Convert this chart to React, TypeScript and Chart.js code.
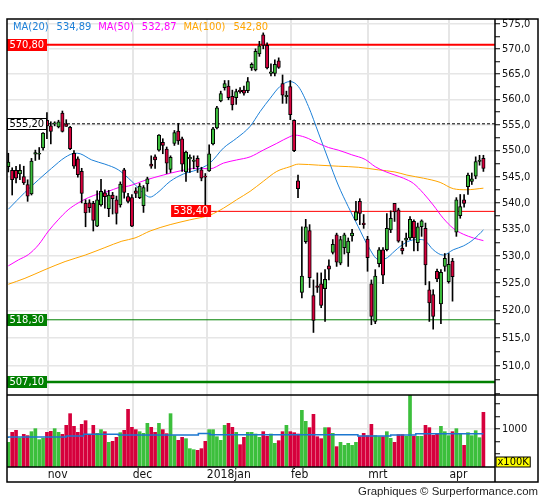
import React, { useEffect, useRef } from 'react';
import { Chart, registerables } from 'chart.js';

Chart.register(...registerables);

// ---------- data ----------
const opens = [
  546.9, 546.2, 546.2, 545.5, 545.0, 543.5, 541.7, 549.3, 549.3, 550.5,
  555.9, 554.8, 555.2, 554.6, 557.3, 555.2, 554.5, 549.5, 548.4, 546.0,
  539.9, 540.0, 539.9, 535.6, 539.6, 541.9, 538.9, 541.5, 540.6, 539.6,
  546.3, 541.2, 541.0, 542.3, 541.0, 539.5, 543.6, 547.4, 548.8, 550.1,
  551.6, 550.3, 546.4, 551.4, 553.8, 552.3, 545.9, 548.4, 547.9, 548.5,
  546.3, 545.1, 546.1, 551.3, 554.4, 559.7, 562.3, 562.6, 560.6, 560.3,
  561.8, 561.8, 561.7, 566.2, 565.8, 569.0, 572.8, 570.7, 565.1, 565.1,
  567.6, 563.1, 560.5, 562.5, 555.9, 544.2, 523.3, 532.7, 534.8, 522.7,
  524.5, 524.9, 524.0, 528.2, 530.7, 534.0, 528.7, 531.6, 530.6, 533.8,
  536.8, 540.3, 536.2, 533.2, 524.9, 518.0, 528.6, 531.2, 531.2, 534.9,
  539.9, 538.7, 531.5, 533.0, 533.4, 536.5, 532.5, 535.5, 535.2, 523.8,
  522.9, 527.2, 521.2, 528.1, 525.3, 529.1, 534.5, 537.6, 540.6, 543.1,
  544.1, 545.1, 547.9, 548.5,
];
const highs = [
  549.5, 546.7, 547.0, 547.3, 547.0, 544.4, 548.5, 550.1, 550.6, 553.5,
  557.4, 555.6, 555.6, 555.9, 557.7, 556.0, 554.7, 550.0, 548.8, 546.6,
  540.6, 540.6, 540.3, 542.3, 544.5, 542.5, 542.4, 542.0, 541.3, 544.0,
  546.6, 541.8, 541.6, 542.9, 543.7, 543.3, 544.9, 549.0, 549.2, 553.1,
  552.3, 550.7, 549.0, 553.9, 555.3, 552.6, 549.9, 549.2, 549.0, 549.0,
  546.8, 545.6, 551.1, 554.5, 558.6, 561.6, 563.7, 563.7, 561.8, 562.0,
  562.3, 562.6, 564.3, 567.2, 570.0, 571.5, 573.2, 571.2, 567.0, 567.8,
  568.2, 564.8, 561.6, 563.7, 556.0, 545.3, 535.5, 536.9, 535.9, 525.6,
  526.9, 526.9, 527.5, 529.3, 533.1, 534.3, 533.7, 534.3, 533.4, 535.0,
  540.3, 540.8, 537.8, 533.7, 525.6, 527.5, 531.6, 531.6, 538.0, 538.5,
  539.9, 539.0, 532.8, 534.3, 537.4, 536.8, 536.2, 536.8, 536.2, 525.3,
  523.8, 527.6, 527.5, 530.5, 530.5, 529.6, 541.0, 541.6, 541.6, 545.7,
  545.7, 548.8, 549.1, 549.1,
];
const lows = [
  545.9, 541.5, 543.8, 544.4, 543.5, 540.3, 541.5, 548.1, 548.3, 550.1,
  552.3, 551.3, 554.8, 554.4, 553.6, 554.7, 550.2, 546.6, 544.9, 540.0,
  535.5, 538.2, 534.7, 535.5, 539.4, 539.0, 537.4, 537.9, 536.0, 539.2,
  540.9, 540.0, 535.5, 541.0, 540.8, 538.2, 542.2, 546.6, 546.6, 549.9,
  549.4, 545.6, 545.8, 551.0, 551.2, 546.0, 544.1, 545.8, 546.5, 545.8,
  544.2, 538.4, 546.0, 551.1, 554.2, 559.5, 561.8, 559.9, 557.9, 559.0,
  561.2, 560.8, 561.3, 565.7, 565.6, 568.5, 570.0, 566.0, 564.6, 564.6,
  566.1, 559.2, 559.2, 556.0, 549.8, 541.0, 522.3, 532.4, 524.2, 516.0,
  523.3, 520.5, 518.0, 525.6, 530.4, 528.1, 528.4, 530.4, 528.1, 532.8,
  536.7, 535.9, 535.2, 527.2, 517.4, 517.6, 528.0, 524.9, 531.0, 534.4,
  536.5, 532.6, 530.4, 531.8, 533.1, 531.0, 531.0, 533.7, 524.7, 518.0,
  516.6, 525.3, 517.6, 527.2, 525.0, 521.7, 533.7, 537.1, 539.2, 541.6,
  543.5, 544.6, 547.2, 546.0,
];
const closes = [
  547.8, 544.4, 544.7, 546.2, 543.8, 541.3, 548.0, 549.6, 549.5, 553.4,
  554.8, 553.7, 555.4, 555.6, 553.7, 554.7, 550.4, 547.0, 545.4, 541.8,
  538.1, 539.1, 536.7, 540.6, 542.2, 541.2, 541.5, 540.8, 538.0, 543.6,
  542.0, 540.3, 535.6, 541.8, 543.2, 542.9, 544.6, 547.0, 548.2, 553.0,
  551.0, 547.6, 548.7, 553.5, 551.9, 547.4, 549.7, 548.7, 548.2, 546.9,
  544.7, 544.9, 549.4, 554.2, 558.3, 561.1, 563.1, 560.3, 558.9, 561.5,
  561.5, 561.2, 563.5, 566.9, 569.5, 570.6, 570.7, 566.2, 565.4, 566.9,
  566.3, 560.8, 560.8, 557.0, 550.0, 542.7, 526.3, 535.5, 526.0, 518.2,
  524.2, 520.9, 525.7, 527.6, 532.2, 528.9, 533.1, 534.0, 532.8, 534.3,
  538.3, 538.0, 535.9, 529.7, 518.9, 526.3, 531.2, 526.5, 535.2, 537.1,
  538.3, 532.8, 531.0, 533.4, 536.9, 533.4, 535.5, 536.6, 528.4, 521.4,
  518.9, 525.8, 527.0, 529.6, 528.5, 526.2, 540.6, 539.3, 539.9, 545.3,
  544.6, 547.9, 548.2, 546.6,
];
const volumes = [
  731, 933, 973, 819, 892, 866, 946, 1007, 785, 812,
  933, 953, 1007, 933, 892, 1074, 1309, 1054, 933, 1094,
  1168, 892, 1074, 913, 987, 946, 731, 751, 832, 926,
  973, 1396, 1034, 987, 946, 913, 1114, 1034, 933, 1114,
  987, 906, 1309, 866, 772, 832, 805, 604, 583, 570,
  604, 751, 987, 987, 845, 772, 1074, 1114, 1034, 933,
  684, 832, 933, 933, 899, 832, 946, 852, 899, 711,
  765, 946, 1074, 946, 926, 899, 1376, 1155, 1027, 1296,
  845, 805, 1027, 1027, 913, 644, 731, 671, 711, 671,
  731, 845, 913, 866, 1094, 866, 845, 845, 946, 812,
  731, 886, 886, 852, 1680, 852, 852, 852, 1074, 1027,
  872, 899, 1054, 946, 866, 946, 1007, 913, 671, 926,
  866, 966, 825, 1336,
];

const ma20Idx = [0, 4.3, 7.8, 11.2, 14.7, 17.3, 18.6, 21.6, 25.0, 28.5, 31.1, 32.8, 35.0, 36.7, 38.4, 41.9, 45.3, 48.8, 52.2, 55.7, 59.1, 62.6, 65.2, 67.8, 70.3, 72.9, 75.1, 77.7, 80.3, 82.9, 85.4, 88.0, 90.6, 93.2, 95.8, 97.5, 100.1, 101.4, 104.0, 106.6, 107.9, 110.0, 112.6, 115.2, 117.8, 120.4, 123];
const ma20Val = [538.8, 542.0, 544.4, 546.6, 548.7, 549.5, 549.4, 548.2, 547.4, 546.3, 544.7, 543.5, 541.8, 541.1, 541.8, 544.1, 545.5, 546.3, 547.6, 550.5, 552.4, 554.7, 557.6, 560.2, 562.5, 563.5, 562.5, 558.6, 553.4, 548.2, 543.4, 539.3, 535.5, 531.8, 529.4, 529.5, 531.0, 531.8, 532.9, 533.1, 532.9, 531.2, 530.2, 531.2, 531.9, 533.1, 534.9];

const ma50Idx = [0, 2.6, 5.2, 7.8, 10.4, 12.9, 15.5, 18.1, 20.7, 23.3, 25.9, 28.5, 31.1, 35.8, 40.1, 44.5, 48.8, 52.2, 55.7, 59.1, 62.6, 66.0, 69.5, 72.9, 74.2, 76.8, 80.3, 82.9, 85.4, 88.9, 92.4, 95.0, 97.5, 100.1, 102.3, 104.9, 107.5, 110.0, 112.6, 115.2, 117.8, 120.4, 123];
const ma50Val = [528.2, 529.3, 530.3, 532.1, 534.7, 536.8, 538.7, 540.0, 541.0, 541.7, 542.2, 542.9, 543.2, 544.4, 545.3, 546.1, 546.6, 546.5, 547.6, 548.2, 548.8, 550.1, 551.4, 552.7, 553.0, 552.6, 551.4, 550.6, 550.1, 549.2, 548.3, 546.9, 546.0, 545.3, 544.7, 543.7, 541.8, 539.6, 537.1, 535.2, 534.1, 533.4, 532.9];

const ma100Idx = [0, 4.3, 9.5, 14.7, 19.9, 25.0, 29.4, 32.8, 36.7, 41.9, 47.0, 52.2, 55.7, 59.1, 62.6, 66.0, 69.5, 72.9, 75.1, 80.3, 85.4, 90.6, 95.8, 100.1, 103.2, 107.5, 111.8, 115.2, 118.6, 123];
const ma100Val = [524.8, 525.9, 527.5, 529.0, 530.2, 531.6, 532.8, 533.4, 534.7, 535.9, 536.8, 537.7, 539.0, 540.6, 542.2, 544.1, 546.0, 546.9, 547.4, 547.2, 547.0, 546.8, 546.3, 545.9, 545.3, 544.7, 543.9, 542.7, 542.5, 542.8];

const volMaIdx = [0, 15, 19.5, 28.5, 49.2, 52.2, 90.5, 99, 105.5, 109.8, 123];
const volMaVal = [819, 839, 859, 892, 879, 908, 886, 859, 879, 906, 906];

const monthTickIdx = [10.2, 32.2, 51.4, 73.2, 93.2, 114.2];
const monthLabels = ['nov', 'dec', '2018jan', 'feb', 'mrt', 'apr'];

const priceTicks = [505, 507.5, 510, 512.5, 515, 517.5, 520, 522.5, 525, 527.5, 530, 532.5, 535, 537.5, 540, 542.5, 545, 547.5, 550, 552.5, 555, 557.5, 560, 562.5, 565, 567.5, 570, 572.5, 575];
const priceLabelTicks = [510, 515, 520, 525, 530, 535, 540, 545, 550, 555, 560, 565, 570, 575];
const volumeTicks = [500, 750, 1000, 1250, 1500];
const volumeLabelTicks = [1000];

const levels = [570.8, 555.2, 538.4, 518.3, 507.1];
const levelStartIdx: (number | null)[] = [null, null, 52.5, null, null];

const legendNames = ['MA(20)', 'MA(50)', 'MA(100)'];
const legendValues = [534.89, 532.87, 542.8];

// ---------- styles ----------
const X_MIN = -0.34;
const X_MAX = 126.0;
const Y_MIN = 504.8;
const Y_MAX = 576.0;
const V_MIN = 234;
const V_MAX = 1685;

const FONT = "'DejaVu Sans Condensed', 'Liberation Sans', sans-serif";
const GREEN = '#3cbf3c';
const RED = '#d6003c';
const GRID = '#e6e6e6';
const maColors = ['#1e81d8', '#ff00ff', '#ffa500'];
const levelColors = ['#ff0000', '#000000', '#ff0000', '#008000', '#008000'];
const levelWidths = [2, 1, 1, 1, 2.5];
const levelDash = [[], [3, 2], [], [], []];
const levelBoxBg = ['#ff0000', '#ffffff', '#ff0000', '#008000', '#008000'];
const levelBoxFg = ['#ffffff', '#000000', '#ffffff', '#ffffff', '#ffffff'];

const fmt1 = (v: number) => v.toFixed(1).replace('.', ',');
const fmt2 = (v: number) => v.toFixed(2).replace('.', ',');

const overlay = {
  id: 'overlay',
  afterDatasetsDraw(chart: any) {
    const ctx = chart.ctx as CanvasRenderingContext2D;
    const { left } = chart.chartArea;
    const xs = chart.scales.x;
    const ys = chart.scales.y;
    ctx.save();
    ctx.font = `11px ${FONT}`;
    ctx.textBaseline = 'middle';
    ctx.textAlign = 'left';
    levels.forEach((v, i) => {
      const py = ys.getPixelForValue(v);
      const text = fmt2(v);
      const w = Math.round(ctx.measureText(text).width + 5);
      const h = 12;
      const s = levelStartIdx[i];
      const startPx = s == null ? left : xs.getPixelForValue(s);
      const bx = Math.max(left, startPx - w);
      const by = Math.round(py - h / 2);
      ctx.fillStyle = levelBoxBg[i];
      ctx.fillRect(bx, by, w, h);
      if (levelBoxBg[i] === '#ffffff') {
        ctx.strokeStyle = '#000';
        ctx.lineWidth = 1;
        ctx.strokeRect(bx + 0.5, by + 0.5, w - 1, h - 1);
      }
      ctx.fillStyle = levelBoxFg[i];
      ctx.fillText(text, bx + 2.5, by + h / 2 + 0.5);
    });
    ctx.restore();
  },
  afterDraw(chart: any) {
    const ctx = chart.ctx as CanvasRenderingContext2D;
    const { left, right, top, bottom } = chart.chartArea;
    const ys = chart.scales.y;
    const xs = chart.scales.x;
    const outerRight = ys.right;
    const outerBottom = xs.bottom;
    ctx.save();
    // legend
    ctx.font = `11px ${FONT}`;
    ctx.textBaseline = 'middle';
    ctx.textAlign = 'left';
    let lx = left + 6;
    legendNames.forEach((n, i) => {
      ctx.fillStyle = maColors[i];
      ctx.fillText(n, lx, top + 8);
      lx += ctx.measureText(n).width + 8;
      const vt = fmt2(legendValues[i]);
      ctx.fillText(vt, lx, top + 8);
      lx += ctx.measureText(vt).width + 7;
    });
    // borders
    ctx.strokeStyle = '#000';
    ctx.lineWidth = 1.5;
    ctx.strokeRect(left, top, outerRight - left, outerBottom - top);
    ctx.beginPath();
    ctx.moveTo(right, top);
    ctx.lineTo(right, outerBottom);
    ctx.moveTo(left, ys.bottom);
    ctx.lineTo(outerRight, ys.bottom);
    ctx.moveTo(left, bottom);
    ctx.lineTo(right, bottom);
    ctx.stroke();
    // x100K box
    ctx.font = `11px ${FONT}`;
    const t = 'x100K';
    const tw = ctx.measureText(t).width + 3;
    ctx.fillStyle = '#ffff00';
    ctx.fillRect(right + 1, bottom - 10, tw, 10);
    ctx.strokeStyle = '#000';
    ctx.lineWidth = 1;
    ctx.strokeRect(right + 1, bottom - 10, tw, 10);
    ctx.fillStyle = '#000';
    ctx.textBaseline = 'middle';
    ctx.fillText(t, right + 2.5, bottom - 4.5);
    // credits
    ctx.font = "11.4px 'Liberation Sans', sans-serif";
    ctx.textAlign = 'right';
    ctx.textBaseline = 'alphabetic';
    ctx.fillStyle = '#222';
    ctx.fillText('Graphiques \u00a9 Surperformance.com', outerRight, 495);
    ctx.restore();
  },
};

export default function App() {
  const ref = useRef<HTMLCanvasElement>(null);
  useEffect(() => {
    const idx = opens.map((_, i) => i);
    const up = opens.map((o, i) => closes[i] >= o);
    const colors = up.map((u) => (u ? GREEN : RED));
    const pts = (xa: number[], ya: number[]) => xa.map((x, i) => ({ x, y: ya[i] }));

    const maSets = [
      pts(ma20Idx, ma20Val),
      pts(ma50Idx, ma50Val),
      pts(ma100Idx, ma100Val),
    ].map((data, i) => ({
      type: 'line',
      data,
      yAxisID: 'y',
      borderColor: maColors[i],
      borderWidth: 1,
      pointRadius: 0,
      cubicInterpolationMode: 'monotone',
      order: 5,
    }));

    const levelSets = levels.map((v, i) => ({
      type: 'line',
      data: [
        { x: levelStartIdx[i] == null ? X_MIN : (levelStartIdx[i] as number), y: v },
        { x: X_MAX, y: v },
      ],
      yAxisID: 'y',
      borderColor: levelColors[i],
      borderWidth: levelWidths[i],
      borderDash: levelDash[i],
      pointRadius: 0,
      order: 6,
    }));

    const chart = new Chart(ref.current as HTMLCanvasElement, {
      type: 'line',
      data: {
        datasets: [
          ...maSets,
          ...levelSets,
          {
            type: 'bar',
            data: idx.map((i) => ({ x: i, y: [lows[i], highs[i]] })),
            yAxisID: 'y',
            backgroundColor: '#000',
            barThickness: 1,
            grouped: false,
            order: 2,
          },
          {
            type: 'bar',
            data: idx.map((i) => ({ x: i, y: [opens[i], closes[i]] })),
            yAxisID: 'y',
            backgroundColor: colors,
            borderColor: '#000',
            borderWidth: 1,
            borderSkipped: false,
            barThickness: 3.4,
            grouped: false,
            order: 1,
          },
          {
            type: 'bar',
            data: idx.map((i) => ({ x: i, y: volumes[i] })),
            yAxisID: 'yv',
            backgroundColor: colors,
            barThickness: 3,
            grouped: false,
            order: 3,
          },
          {
            type: 'line',
            data: pts(volMaIdx, volMaVal),
            yAxisID: 'yv',
            borderColor: '#1c77d0',
            borderWidth: 1.5,
            pointRadius: 0,
            stepped: 'after',
            order: 0,
          },
        ] as any,
      },
      options: {
        animation: false,
        responsive: false,
        events: [],
        layout: { padding: { left: 7, right: 7, top: 19, bottom: 18 } },
        plugins: { legend: { display: false }, tooltip: { enabled: false } },
        scales: {
          x: {
            type: 'linear',
            position: 'bottom',
            min: X_MIN,
            max: X_MAX,
            bounds: 'data',
            offset: false,
            afterBuildTicks: (s: any) => {
              s.ticks = monthTickIdx.map((v) => ({ value: v }));
            },
            afterFit: (s: any) => {
              s.height = 15;
            },
            ticks: {
              autoSkip: false,
              maxRotation: 0,
              align: 'start',
              padding: 1,
              color: '#111',
              font: { family: FONT, size: 12 },
              callback: (v: any) => {
                const k = monthTickIdx.indexOf(Number(v));
                return k >= 0 ? monthLabels[k] : '';
              },
            },
            grid: { color: GRID, lineWidth: 2, drawTicks: false, offset: false },
            border: { display: false },
          },
          y: {
            type: 'logarithmic',
            position: 'right',
            min: Y_MIN,
            max: Y_MAX,
            bounds: 'data',
            stack: 'panels',
            stackWeight: 376,
            weight: 0,
            afterBuildTicks: (s: any) => {
              s.ticks = priceTicks.map((v) => ({ value: v }));
            },
            afterFit: (s: any) => {
              s.width = 43;
            },
            ticks: {
              autoSkip: false,
              padding: 2,
              color: '#111',
              font: { family: FONT, size: 11 },
              callback: (v: any) => (priceLabelTicks.includes(Number(v)) ? fmt1(Number(v)) : ''),
            },
            grid: {
              color: (c: any) => (c.tick && priceLabelTicks.includes(c.tick.value) ? GRID : 'rgba(0,0,0,0)'),
              lineWidth: 1.5,
              tickColor: '#000',
              tickLength: 5,
              tickWidth: 1,
            },
            border: { display: false },
          },
          yv: {
            type: 'linear',
            position: 'right',
            min: V_MIN,
            max: V_MAX,
            bounds: 'data',
            stack: 'panels',
            stackWeight: 72,
            weight: 1,
            afterBuildTicks: (s: any) => {
              s.ticks = volumeTicks.map((v) => ({ value: v }));
            },
            afterFit: (s: any) => {
              s.width = 43;
            },
            ticks: {
              autoSkip: false,
              padding: 2,
              color: '#111',
              font: { family: FONT, size: 11 },
              callback: (v: any) => (volumeLabelTicks.includes(Number(v)) ? String(v) : ''),
            },
            grid: {
              color: (c: any) => (c.tick && volumeLabelTicks.includes(c.tick.value) ? GRID : 'rgba(0,0,0,0)'),
              lineWidth: 1.5,
              tickColor: '#000',
              tickLength: 5,
              tickWidth: 1,
            },
            border: { display: false },
          },
        } as any,
      },
      plugins: [overlay],
    } as any);
    return () => chart.destroy();
  }, []);

  return (
    <div style={{ position: 'fixed', left: 0, top: 0, width: 545, height: 500, background: '#fff' }}>
      <canvas ref={ref} width={545} height={500} style={{ display: 'block', width: 545, height: 500 }} />
    </div>
  );
}
